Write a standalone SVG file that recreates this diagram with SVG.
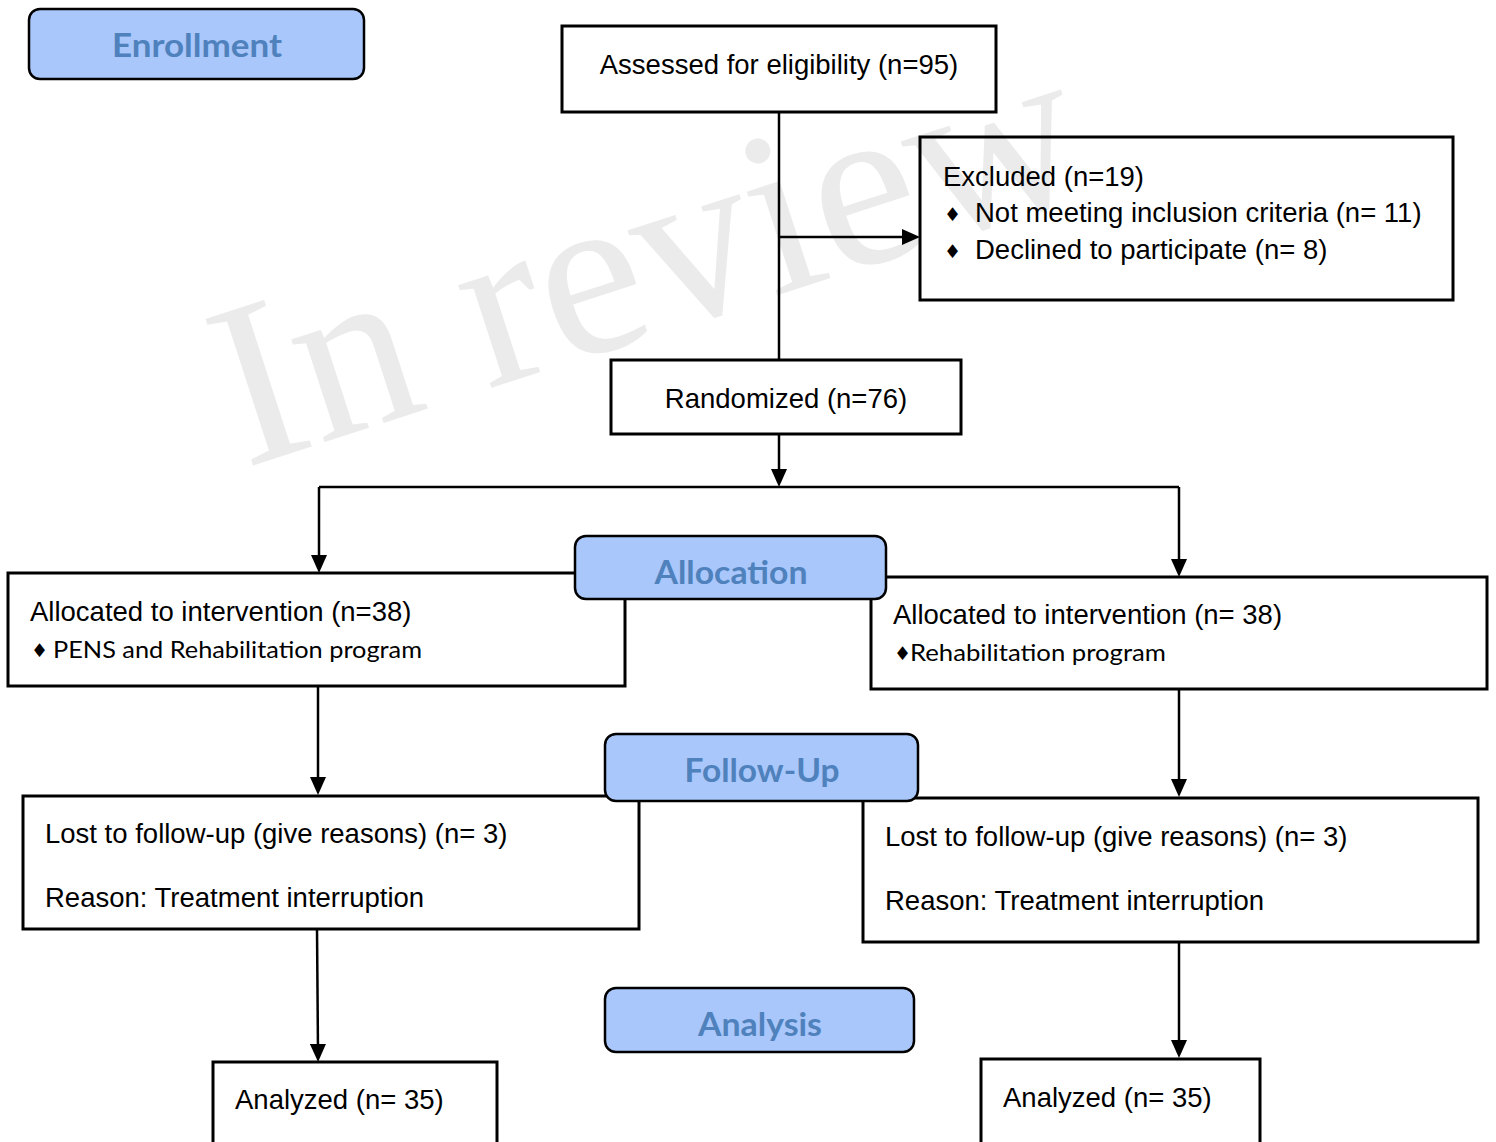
<svg xmlns="http://www.w3.org/2000/svg" width="1496" height="1142" viewBox="0 0 1496 1142">
<defs>
<style>
.box{fill:none;stroke:#000;stroke-width:3}
.lab{fill:#a9c7fa;stroke:#000;stroke-width:2.5}
.lt{font-family:Lato,"Open Sans",sans-serif;font-weight:bold;font-size:33px;fill:#4f81bd;text-anchor:middle}
.t{font-family:"Liberation Sans",Arial,sans-serif;font-size:27.5px;fill:#000}
.c{font-family:Lato,"Open Sans",sans-serif;font-size:23px;fill:#000}
.b{font-family:"DejaVu Sans",sans-serif;font-size:19px;fill:#000}
.ln{fill:none;stroke:#000;stroke-width:2.5}
.wm{font-family:"Liberation Serif","Times New Roman",serif;font-size:235px;fill:#ebebeb}
</style>
<marker id="arr" markerUnits="userSpaceOnUse" markerWidth="18" markerHeight="16" refX="8" refY="8" orient="auto">
<path d="M0,0 L18,8 L0,16 z" fill="#000"/>
</marker>
</defs>
<rect width="1496" height="1142" fill="#fff"/>
<text class="wm" transform="translate(245,468) rotate(-18)" x="0" y="0">In review</text>

<g id="assessed"><rect class="box" x="562" y="26" width="434" height="86"/><text class="t" x="779" y="74" text-anchor="middle">Assessed for eligibility (n=95)</text></g>
<g id="excluded"><rect class="box" x="920" y="137" width="533" height="163"/>
<text class="t" x="943" y="186">Excluded (n=19)</text>
<text class="b" x="944" y="221">♦</text><text class="t" x="975" y="222">Not meeting inclusion criteria (n= 11)</text>
<text class="b" x="944" y="258">♦</text><text class="t" x="975" y="259">Declined to participate (n= 8)</text></g>
<g id="randomized"><rect class="box" x="611" y="360" width="350" height="74"/><text class="t" x="786" y="408" text-anchor="middle">Randomized (n=76)</text></g>
<g id="alloc-left"><rect class="box" x="8" y="573" width="617" height="113"/>
<text class="t" x="30" y="621">Allocated to intervention (n=38)</text>
<text class="b" x="31" y="657">♦</text><text class="c" x="53" y="658" textLength="369" lengthAdjust="spacingAndGlyphs">PENS and Rehabilitation program</text></g>
<g id="alloc-right"><rect class="box" x="871" y="577" width="616" height="112"/>
<text class="t" x="893" y="624">Allocated to intervention (n= 38)</text>
<text class="b" x="894" y="660">♦</text><text class="c" x="910" y="661" textLength="256" lengthAdjust="spacingAndGlyphs">Rehabilitation program</text></g>
<g id="lost-left"><rect class="box" x="23" y="796" width="616" height="133"/>
<text class="t" x="45" y="843">Lost to follow-up (give reasons) (n= 3)</text>
<text class="t" x="45" y="907">Reason: Treatment interruption</text></g>
<g id="lost-right"><rect class="box" x="863" y="798" width="615" height="144"/>
<text class="t" x="885" y="846">Lost to follow-up (give reasons) (n= 3)</text>
<text class="t" x="885" y="910">Reason: Treatment interruption</text></g>
<g id="analyzed-left"><rect class="box" x="213" y="1062" width="284" height="100"/><text class="t" x="235" y="1109">Analyzed (n= 35)</text></g>
<g id="analyzed-right"><rect class="box" x="981" y="1059" width="279" height="100"/><text class="t" x="1003" y="1107">Analyzed (n= 35)</text></g>

<g id="connectors">
<path class="ln" d="M779,112 V360"/>
<path class="ln" d="M779,237 H910" marker-end="url(#arr)"/>
<path class="ln" d="M779,434 V477" marker-end="url(#arr)"/>
<path class="ln" d="M319,487 H1179"/>
<path class="ln" d="M319,487 V563" marker-end="url(#arr)"/>
<path class="ln" d="M1179,487 V567" marker-end="url(#arr)"/>
<path class="ln" d="M318,686 V785" marker-end="url(#arr)"/>
<path class="ln" d="M1179,689 V787" marker-end="url(#arr)"/>
<path class="ln" d="M317,929 L318,1052" marker-end="url(#arr)"/>
<path class="ln" d="M1179,942 V1048" marker-end="url(#arr)"/>
</g>

<g id="enrollment"><rect class="lab" x="29" y="9" width="335" height="70" rx="11"/><text class="lt" x="197" y="57" textLength="170" lengthAdjust="spacingAndGlyphs">Enrollment</text></g>
<g id="allocation"><rect class="lab" x="575" y="536" width="311" height="63" rx="11"/><text class="lt" x="731" y="584" textLength="153" lengthAdjust="spacingAndGlyphs">Allocation</text></g>
<g id="follow-up"><rect class="lab" x="605" y="734" width="313" height="67" rx="11"/><text class="lt" x="762" y="782" textLength="155" lengthAdjust="spacingAndGlyphs">Follow-Up</text></g>
<g id="analysis"><rect class="lab" x="605" y="988" width="309" height="64" rx="11"/><text class="lt" x="760" y="1036" textLength="124" lengthAdjust="spacingAndGlyphs">Analysis</text></g>
</svg>
